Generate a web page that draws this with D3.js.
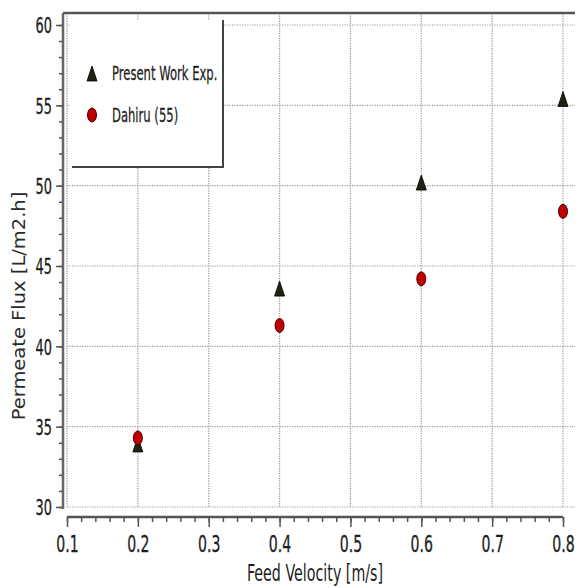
<!doctype html>
<html>
<head>
<meta charset="utf-8">
<style>
  body { margin: 0; background: #fff; font-family: "DejaVu Sans", Verdana, sans-serif; }
  .tick line { stroke: #555; stroke-width: 1.5; }
  .tick text { fill: #1e1e1e; stroke: #1e1e1e; stroke-width: 0.35; }
</style>
</head>
<body>
<div id="chart"></div>
<script src="https://cdnjs.cloudflare.com/ajax/libs/d3/7.8.5/d3.min.js"></script>
<script>
  // values
  var velocity = [0.2, 0.4, 0.6, 0.8]
  var presentWork = [33.8, 43.5, 50.1, 55.3]
  var dahiru = [34.3, 41.3, 44.2, 48.4]
  var xTicks = [0.1, 0.2, 0.3, 0.4, 0.5, 0.6, 0.7, 0.8]
  var yTicks = [30, 35, 40, 45, 50, 55, 60]
  var seriesNames = ['Present Work Exp.', 'Dahiru (55)']

  var width = 579
  var height = 588
  var squeeze = 0.6   // the original figure is squashed sideways

  var svg = d3.select('#chart')
    .append('svg')
    .attr('width', width)
    .attr('height', height)

  var x = d3.scaleLinear().domain([0.1, 0.8]).range([67, 563])
  var y = d3.scaleLinear().domain([30, 60]).range([507, 25])

  var plotTop = 13
  var plotRight = 575
  var yAxisX = 63
  var xAxisY = 517

  // dotted grid
  var grid = svg.append('g')
  grid.selectAll('.hgrid')
    .data(yTicks)
    .enter().append('line')
    .attr('x1', x(0.1))
    .attr('x2', plotRight)
    .attr('y1', d => y(d))
    .attr('y2', d => y(d))
  grid.selectAll('.vgrid')
    .data(xTicks)
    .enter().append('line')
    .attr('x1', d => x(d))
    .attr('x2', d => x(d))
    .attr('y1', plotTop)
    .attr('y2', y(30))
  grid.selectAll('line')
    .attr('stroke', '#999')
    .attr('stroke-width', 1.2)
    .attr('stroke-dasharray', '1.2,1.3')

  // legend box sits on top of the grid
  var legend = svg.append('g')
  legend.append('rect')
    .attr('x', 70).attr('y', 20)
    .attr('width', 153).attr('height', 147)
    .attr('fill', '#fff')
  legend.append('path')
    .attr('d', 'M72,167H223V20')
    .attr('fill', 'none')
    .attr('stroke', '#444')
    .attr('stroke-width', 2)

  // top frame
  svg.append('line')
    .attr('x1', yAxisX).attr('x2', plotRight)
    .attr('y1', plotTop).attr('y2', plotTop)
    .attr('stroke', '#555').attr('stroke-width', 2.5)

  // y axis
  var yAxisG = svg.append('g').attr('transform', `translate(${yAxisX},0)`)
  yAxisG.append('g')
    .call(d3.axisLeft(y).tickValues(d3.range(30, 61)).tickSize(4).tickFormat(''))
  yAxisG.append('g')
    .call(d3.axisLeft(y).tickValues(yTicks).tickSize(7).tickFormat(d3.format('d')))
  yAxisG.selectAll('.domain').remove()
  yAxisG.selectAll('text')
    .attr('font-size', 21.5)
    .attr('font-family', '"DejaVu Sans", Verdana, sans-serif')
    .attr('x', -11 / squeeze)
    .attr('dy', '0.36em')
    .attr('transform', `scale(${squeeze},1)`)
  yAxisG.append('line')
    .attr('x1', 0).attr('x2', 0)
    .attr('y1', plotTop).attr('y2', y(30) + 2)
    .attr('stroke', '#666').attr('stroke-width', 2.5)

  // x axis
  var xAxisG = svg.append('g').attr('transform', `translate(0,${xAxisY})`)
  xAxisG.append('g')
    .call(d3.axisBottom(x).tickValues(d3.range(0, 36).map(i => 0.1 + i * 0.02)).tickSize(5).tickFormat(''))
  xAxisG.append('g')
    .call(d3.axisBottom(x).tickValues(xTicks).tickSize(10).tickFormat(d3.format('.1f')))
  xAxisG.selectAll('.domain').remove()
  xAxisG.selectAll('text')
    .attr('font-size', 23.5)
    .attr('font-family', '"DejaVu Sans", Verdana, sans-serif')
    .attr('y', 35)
    .attr('dy', 0)
    .attr('transform', `scale(${squeeze},1)`)
  xAxisG.append('line')
    .attr('x1', x(0.1)).attr('x2', x(0.8))
    .attr('y1', 0).attr('y2', 0)
    .attr('stroke', '#555').attr('stroke-width', 2.5)

  // axis titles
  svg.append('text')
    .attr('transform', `translate(${(x(0.1) + x(0.8)) / 2},581) scale(0.62,1)`)
    .attr('text-anchor', 'middle')
    .attr('font-size', 23)
    .attr('fill', '#1e1e1e')
    .text('Feed Velocity [m/s]')

  svg.append('text')
    .attr('transform', `translate(25,${(y(30) + y(60)) / 2 + 40}) rotate(-90) scale(1,0.95)`)
    .attr('text-anchor', 'middle')
    .attr('font-size', 19.5)
    .attr('fill', '#2a2a2a')
    .text('Permeate Flux [L/m2.h]')

  // markers
  var triangle = 'M0,-9L5,6L-5,6Z'

  svg.append('g')
    .selectAll('path')
    .data(velocity.map((v, i) => ({ v: v, flux: presentWork[i] })))
    .enter().append('path')
    .attr('d', triangle)
    .attr('transform', d => `translate(${x(d.v)},${y(d.flux)})`)
    .attr('fill', '#1d2410')
    .attr('stroke', '#000')
    .attr('stroke-width', 0.8)

  svg.append('g')
    .selectAll('ellipse')
    .data(velocity.map((v, i) => ({ v: v, flux: dahiru[i] })))
    .enter().append('ellipse')
    .attr('cx', d => x(d.v))
    .attr('cy', d => y(d.flux))
    .attr('rx', 4.5)
    .attr('ry', 7)
    .attr('fill', '#c00000')
    .attr('stroke', '#4a0000')
    .attr('stroke-width', 1)

  // legend entries
  legend.append('path')
    .attr('d', triangle)
    .attr('transform', 'translate(92,75)')
    .attr('fill', '#1d2410')
    .attr('stroke', '#000')
    .attr('stroke-width', 0.8)
  legend.append('ellipse')
    .attr('cx', 92).attr('cy', 115)
    .attr('rx', 4.5).attr('ry', 7)
    .attr('fill', '#c00000')
    .attr('stroke', '#4a0000')
    .attr('stroke-width', 1)
  legend.selectAll('text')
    .data(seriesNames)
    .enter().append('text')
    .attr('transform', (d, i) => `translate(112,${80 + i * 42}) scale(0.58,1)`)
    .attr('font-size', 20)
    .attr('fill', '#1e1e1e')
    .attr('stroke', '#1e1e1e')
    .attr('stroke-width', 0.3)
    .text(d => d)
</script>
</body>
</html>
